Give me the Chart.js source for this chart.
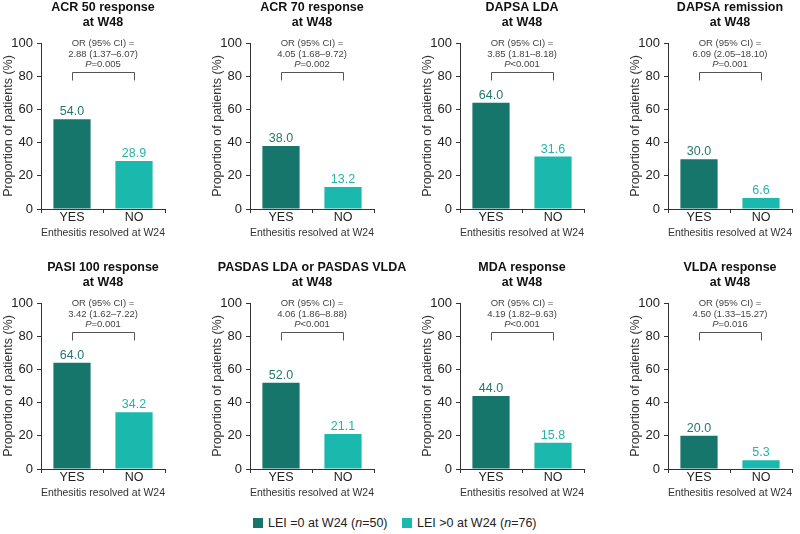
<!DOCTYPE html>
<html>
<head>
<meta charset="utf-8">
<script src="https://cdn.jsdelivr.net/npm/chart.js@4.4.0/dist/chart.umd.min.js"></script>
<style>
  html, body { margin: 0; padding: 0; background: #fff; }
  #wrap { position: relative; width: 800px; height: 534px; overflow: hidden; }
  #wrap canvas { position: absolute; }
  .leg { position: absolute; top: 515px; font: 12.5px 'Liberation Sans', Arial, sans-serif; color: #222; white-space: nowrap; line-height: 16px; }
  .leg span.sw { display: inline-block; width: 10px; height: 10px; margin-right: 5px; vertical-align: -1px; }
</style>
</head>
<body>
<div id="wrap">
  <div class="leg" style="left:253px"><span class="sw" style="background:#17766c"></span>LEI =0 at W24 (<i>n</i>=50)</div>
  <div class="leg" style="left:402px"><span class="sw" style="background:#1ab8ad"></span>LEI &gt;0 at W24 (<i>n</i>=76)</div>
</div>
<script>
/* ─── data ─── */
const categories = ['YES', 'NO'];
const titles = ['ACR 50 response', 'ACR 70 response', 'DAPSA LDA', 'DAPSA remission',
  'PASI 100 response', 'PASDAS LDA or PASDAS VLDA', 'MDA response', 'VLDA response'];
const yesValues = [54.0, 38.0, 64.0, 30.0, 64.0, 52.0, 44.0, 20.0];
const noValues = [28.9, 13.2, 31.6, 6.6, 34.2, 21.1, 15.8, 5.3];
const orValues = ['2.88 (1.37–6.07)', '4.05 (1.68–9.72)', '3.85 (1.81–8.18)', '6.09 (2.05–18.10)',
  '3.42 (1.62–7.22)', '4.06 (1.86–8.88)', '4.19 (1.82–9.63)', '4.50 (1.33–15.27)'];
const pValues = ['=0.005', '=0.002', '<0.001', '=0.001', '=0.001', '<0.001', '<0.001', '=0.016'];
const yTicks = [0, 20, 40, 60, 80, 100];

const FONT = "'Liberation Sans', Arial, sans-serif";
const DARK = '#17766c';
const LIGHT = '#1ab8ad';
const DARK_TXT = '#23786d';
const LIGHT_TXT = '#25b3a8';
const AXIS = '#333';

Chart.defaults.font.family = FONT;
Chart.defaults.color = AXIS;

/* ─── titles, OR bracket, value labels ─── */
const panelDecor = {
  id: 'panelDecor',
  afterDatasetsDraw(chart, args, opts) {
    const { ctx, chartArea, scales: { x, y } } = chart;
    const i = opts.index;
    const cx = (chartArea.left + chartArea.right) / 2;
    const top = chartArea.top;
    ctx.save();
    ctx.textAlign = 'center';
    ctx.textBaseline = 'middle';

    ctx.fillStyle = '#111';
    ctx.font = `bold 12.5px ${FONT}`;
    ctx.fillText(titles[i], cx, top - 35.5);
    ctx.fillText('at W48', cx, top - 20.5);

    const normal = `9.5px ${FONT}`;
    const italic = `italic 9.5px ${FONT}`;
    ctx.fillStyle = '#444';
    ctx.font = normal;
    ctx.fillText('OR (95% CI) =', cx, top + 0.5);
    ctx.fillText(orValues[i], cx, top + 11);
    ctx.font = italic;
    const wp = ctx.measureText('P').width;
    ctx.font = normal;
    const wr = ctx.measureText(pValues[i]).width;
    const sx = cx - (wp + wr) / 2;
    ctx.textAlign = 'left';
    ctx.font = italic;
    ctx.fillText('P', sx, top + 21.5);
    ctx.font = normal;
    ctx.fillText(pValues[i], sx + wp, top + 21.5);

    const x0 = Math.round(x.getPixelForValue(0)) + 0.5;
    const x1 = Math.round(x.getPixelForValue(1)) + 0.5;
    const yb = Math.round(y.getPixelForValue(82.5)) + 0.5;
    ctx.strokeStyle = '#555';
    ctx.lineWidth = 1;
    ctx.beginPath();
    ctx.moveTo(x0, yb + 8);
    ctx.lineTo(x0, yb);
    ctx.lineTo(x1, yb);
    ctx.lineTo(x1, yb + 8);
    ctx.stroke();

    ctx.textAlign = 'center';
    ctx.textBaseline = 'alphabetic';
    ctx.font = `12.5px ${FONT}`;
    const meta = chart.getDatasetMeta(0);
    const vals = [yesValues[i], noValues[i]];
    meta.data.forEach((bar, j) => {
      ctx.fillStyle = j === 0 ? DARK_TXT : LIGHT_TXT;
      ctx.fillText(vals[j].toFixed(1), bar.x, bar.y - 4);
    });
    ctx.restore();
  }
};

const wrap = document.getElementById('wrap');

function makePanel(i) {
  const col = i % 4;
  const row = Math.floor(i / 4);
  const w = col === 3 ? 173 : 200;
  const h = 245;
  const canvas = document.createElement('canvas');
  canvas.width = w;
  canvas.height = h;
  canvas.style.left = [0, 209, 419, 627][col] + 'px';
  canvas.style.top = (row === 0 ? 0 : 260) + 'px';
  canvas.style.width = w + 'px';
  canvas.style.height = h + 'px';
  wrap.appendChild(canvas);

  return new Chart(canvas, {
    type: 'bar',
    data: {
      labels: categories,
      datasets: [{
        data: [yesValues[i], noValues[i]],
        backgroundColor: [DARK, LIGHT],
        borderWidth: 0,
        barPercentage: 0.6,
        categoryPercentage: 1,
      }],
    },
    options: {
      responsive: false,
      animation: false,
      devicePixelRatio: 1,
      layout: { padding: { top: 43, right: w - 165, bottom: 0, left: 0 } },
      plugins: {
        legend: { display: false },
        tooltip: { enabled: false },
        panelDecor: { index: i },
      },
      scales: {
        x: {
          afterFit: (s) => { s.height = 36; },
          grid: { drawOnChartArea: false, tickLength: 4, color: AXIS, offset: true },
          border: { color: AXIS, width: 1 },
          ticks: { font: { size: 12.5 }, color: '#222', padding: -3 },
          title: {
            display: true,
            text: 'Enthesitis resolved at W24',
            font: { size: 11.5 },
            color: '#333',
            padding: { top: 0, bottom: 5 },
          },
        },
        y: {
          min: 0,
          max: 100,
          afterFit: (s) => { s.width = 41; },
          afterBuildTicks: (s) => { s.ticks = yTicks.map((v) => ({ value: v })); },
          grid: { drawOnChartArea: false, tickLength: 4, color: AXIS },
          border: { color: AXIS, width: 1 },
          ticks: { font: { size: 13 }, color: '#222', padding: 4 },
          title: {
            display: true,
            text: 'Proportion of patients (%)',
            font: { size: 12.5 },
            color: '#333',
            padding: { top: 1, bottom: 0 },
          },
        },
      },
    },
    plugins: [panelDecor],
  });
}

titles.forEach((t, i) => makePanel(i));
</script>
</body>
</html>
